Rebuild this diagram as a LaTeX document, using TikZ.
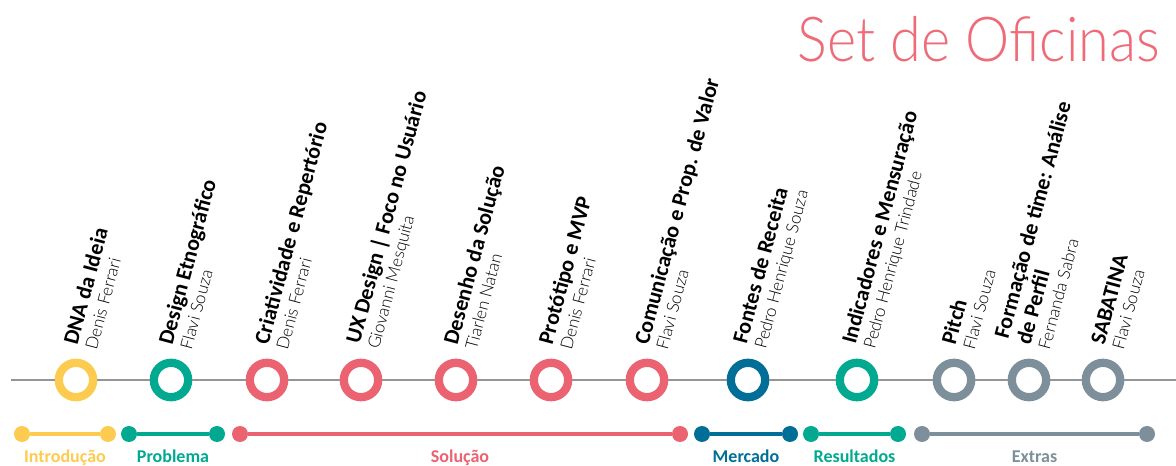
\documentclass[tikz,border=0pt]{standalone}
\usepackage{fontspec}
\setmainfont{Carlito}
\newfontfamily\namefont{Lato Light}
\usetikzlibrary{positioning}
\definecolor{ofyellow}{HTML}{FDCB4F}
\definecolor{ofgreen}{HTML}{00A98F}
\definecolor{ofred}{HTML}{EB6271}
\definecolor{ofblue}{HTML}{006E96}
\definecolor{ofgray}{HTML}{7D8F9B}
\definecolor{oftitle}{HTML}{EF6B77}
\definecolor{tlgray}{HTML}{959595}

\begin{document}
\begin{tikzpicture}[x=1pt, y=1pt,
    ring/.style={circle, draw, line width=8.3pt, fill=white, minimum size=34.4pt, inner sep=0pt},
    dot/.style={circle, inner sep=0pt, minimum size=16pt},
    tline/.style={draw=tlgray, line width=1.8pt},
    topic/.style={rotate=75, anchor=south west, align=left, inner sep=0pt, font=\fontsize{22}{20}\selectfont\bfseries},
    phase/.style={font=\fontsize{18}{18}\selectfont\bfseries, inner sep=0pt, anchor=base}]

    \useasboundingbox (0,0) rectangle (1176,466);

    \node[anchor=base east, xscale=0.9, transform shape, text=oftitle, font=\namefont\fontsize{62}{62}\selectfont, inner sep=0pt] (head) at (1160,404) {Set de Oficinas};

    % oficinas
    \foreach \x/\c/\t/\p [count=\i] in {
        76/ofyellow/{DNA da Ideia}/{Denis Ferrari},
        171/ofgreen/{Design Etnográfico}/{Flavi Souza},
        267/ofred/{Criatividade e Repertório}/{Denis Ferrari},
        361/ofred/{UX Design | Foco no Usuário}/{Giovanni Mesquita},
        456/ofred/{Desenho da Solução}/{Tiarlen Natan},
        551/ofred/{Protótipo e MVP}/{Denis Ferrari},
        647/ofred/{Comunicação e Prop. de Valor}/{Flavi Souza},
        748/ofblue/{Fontes de Receita}/{Pedro Henrique Souza},
        857/ofgreen/{Indicadores e Mensuração}/{Pedro Henrique Trindade},
        954/ofgray/{Pitch}/{Flavi Souza},
        1029/ofgray/{Formação de time: Análise\\[3pt]de Perfil}/{Fernanda Sabra},
        1103/ofgray/{SABATINA}/{Flavi Souza}}{
        \node[ring, draw=\c] (W\i) at (\x,86) {};
        \node[topic] (T\i) at ({\x+21},115) {\t\\\namefont\mdseries\fontsize{17}{20}\selectfont\p};
    }

    \coordinate (L0) at (11,86);
    \coordinate (L1) at (1176,86);
    \draw[tline] (L0) -- (W1);
    \foreach \i [evaluate=\i as \j using int(\i+1)] in {1,...,11}
        \draw[tline] (W\i) -- (W\j);
    \draw[tline] (W12) -- (L1);

    % etapas
    \foreach \a/\b/\c/\t [count=\i] in {
        22/108/ofyellow/Introdução,
        129/217/ofgreen/Problema,
        240/680/ofred/Solução,
        702/790/ofblue/Mercado,
        811/898/ofgreen/Resultados,
        922/1147/ofgray/Extras}{
        \node[dot, fill=\c] (A\i) at (\a,32) {};
        \node[dot, fill=\c] (B\i) at (\b,32) {};
        \draw[\c, line width=4.5pt] (A\i) -- (B\i) node[phase, midway, yshift=-29pt, text=\c] (P\i) {\t};
    }
\end{tikzpicture}
\end{document}
